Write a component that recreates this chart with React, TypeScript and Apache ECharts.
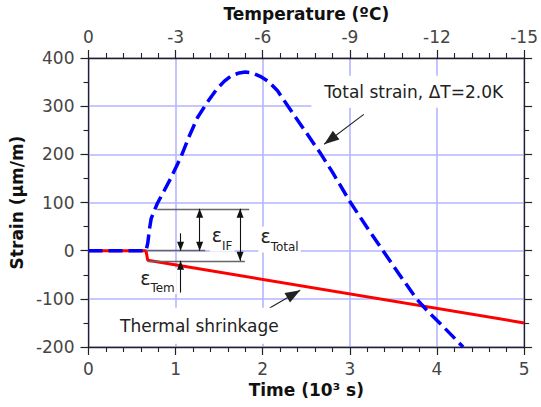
import React, { useEffect, useRef } from "react";
import * as echarts from "echarts";

// ---- data ----
const timeTicks = [0, 1, 2, 3, 4, 5];
const tempTicks = [-15, -12, -9, -6, -3, 0];
const strainTicks = [-200, -100, 0, 100, 200, 300, 400];

const timeTotal = [0, 0.66, 0.68, 0.7, 0.72, 0.76, 0.79, 0.87, 0.94, 1.06, 1.15, 1.25, 1.36, 1.47, 1.56, 1.64, 1.73, 1.8, 1.88, 1.97, 2.06, 2.17, 2.29, 2.45, 2.67, 2.8, 3.0, 3.19, 3.38, 3.57, 3.765, 3.9, 4.03, 4.3];
const strainTotal = [0, 0, 15, 45, 67, 85, 98, 125, 149, 194, 235, 276, 307, 335, 352, 363, 369, 371, 369, 362, 352, 332, 300, 258, 200, 163, 102, 50, 0, -50, -100, -127, -150, -200];

const timeThermal = [0, 0.66, 0.68, 5];
const strainThermal = [0, 0, -20, -150];

// annotation anchors (data coordinates)
const eIFTop = 87;
const eBottom = -21;

const FONT = "DejaVu Sans";
const AX = "#222";
const GRID = "#b5b5ff";
const TICKC = "#454545";

function zip(a: number[], b: number[]) {
  return a.map((v, i) => [v, b[i]]);
}

function end(x: number, y: number, sym: string, w: number, h: number) {
  return {
    coord: [x, y],
    symbol: sym,
    symbolSize: [w, h],
    symbolOffset: [0, h / 2],
  };
}

function seg(x1: number, y1: number, x2: number, y2: number, s1: string, s2: string, w: number, h: number) {
  return [end(x1, y1, s1, w, h), end(x2, y2, s2, w, h)];
}

const epsRich = {
  e: { fontSize: 19, lineHeight: 20, verticalAlign: "top", color: "#222", fontFamily: FONT },
  s: { fontSize: 12, lineHeight: 26, verticalAlign: "bottom", color: "#222", fontFamily: FONT },
};

function epsLabel(x: number, y: number, sub: string) {
  return {
    coord: [x, y],
    label: {
      show: true,
      position: "inside",
      formatter: "{e|ε}{s|" + sub + "}",
      backgroundColor: "#fff",
      padding: [0, 2, 0, 2],
      rich: epsRich,
    },
  };
}

export default function App() {
  const ref = useRef<HTMLDivElement>(null);
  useEffect(() => {
    if (!ref.current) return;
    const chart = echarts.init(ref.current, null, { renderer: "svg" });
    const axisLine = { show: true, onZero: false, lineStyle: { color: AX, width: 1.3 } };
    const axisTick = { show: true, inside: false, length: 8, lineStyle: { color: AX, width: 1.2 } };
    const labelStyle = { fontSize: 17, color: TICKC, fontFamily: FONT };
    const nameStyle = { fontSize: 17, fontWeight: "bold", color: "#111", fontFamily: FONT };

    chart.setOption({
      animation: false,
      textStyle: { fontFamily: FONT },
      grid: { left: 87, right: 14, top: 55, bottom: 60, containLabel: false },
      xAxis: [
        {
          type: "value",
          position: "bottom",
          min: timeTicks[0],
          max: timeTicks[timeTicks.length - 1],
          interval: 1,
          axisLine,
          axisTick,
          minorTick: { show: true, splitNumber: 5, length: 5, lineStyle: { color: AX, width: 1.1 } },
          splitLine: { show: true, lineStyle: { color: GRID, width: 1.6 } },
          axisLabel: { ...labelStyle, margin: 13 },
          name: "Time (10³ s)",
          nameLocation: "middle",
          nameGap: 34,
          nameTextStyle: nameStyle,
        },
        {
          type: "value",
          position: "top",
          min: tempTicks[0],
          max: tempTicks[tempTicks.length - 1],
          interval: 3,
          inverse: true,
          axisLine,
          axisTick,
          minorTick: { show: true, splitNumber: 5, length: 5, lineStyle: { color: AX, width: 1.1 } },
          splitLine: { show: false },
          axisLabel: { ...labelStyle, margin: 13 },
          name: "Temperature (ºC)",
          nameLocation: "middle",
          nameGap: 36,
          nameTextStyle: nameStyle,
        },
      ],
      yAxis: [
        {
          type: "value",
          position: "left",
          min: strainTicks[0],
          max: strainTicks[strainTicks.length - 1],
          interval: 100,
          axisLine,
          axisTick,
          minorTick: { show: true, splitNumber: 2, length: 5, lineStyle: { color: AX, width: 1.1 } },
          splitLine: { show: true, lineStyle: { color: GRID, width: 1.6 } },
          axisLabel: { ...labelStyle, margin: 14 },
          name: "Strain (µm/m)",
          nameLocation: "middle",
          nameGap: 58,
          nameRotate: 90,
          nameTextStyle: nameStyle,
        },
        {
          type: "value",
          position: "right",
          min: strainTicks[0],
          max: strainTicks[strainTicks.length - 1],
          interval: 100,
          axisLine,
          axisTick,
          minorTick: { show: true, splitNumber: 2, length: 5, lineStyle: { color: AX, width: 1.1 } },
          splitLine: { show: false },
          axisLabel: { show: false },
        },
      ],
      series: [
        {
          name: "Thermal shrinkage",
          type: "line",
          data: zip(timeThermal, strainThermal),
          showSymbol: false,
          lineStyle: { color: "#ff0000", width: 3 },
          itemStyle: { color: "#ff0000" },
          z: 3,
          silent: true,
        },
        {
          name: "Total strain",
          type: "line",
          data: zip(timeTotal, strainTotal),
          showSymbol: false,
          lineStyle: { color: "#0000ff", width: 3.5, type: [14, 6] },
          itemStyle: { color: "#0000ff" },
          z: 4,
          silent: true,
        },
        {
          name: "guides",
          type: "line",
          data: [],
          z: 5,
          silent: true,
          markLine: {
            silent: true,
            symbol: "none",
            label: { show: false },
            emphasis: { disabled: true },
            lineStyle: { color: "#666", width: 1.3, type: "solid" },
            data: [
              seg(0.79, eIFTop, 1.845, eIFTop, "none", "none", 1, 1),
              seg(0.66, 0, 1.34, 0, "none", "none", 1, 1),
              seg(0.68, eBottom, 1.795, eBottom, "none", "none", 1, 1),
            ],
          },
        },
        {
          name: "small arrows",
          type: "line",
          data: [],
          z: 6,
          silent: true,
          markLine: {
            silent: true,
            label: { show: false },
            emphasis: { disabled: true },
            lineStyle: { color: "#111", width: 1.1, type: "solid" },
            data: [
              seg(1.276, 0, 1.276, eIFTop, "triangle", "triangle", 7, 9),
              seg(1.74, eIFTop, 1.74, eBottom, "triangle", "triangle", 7, 9),
              seg(1.057, 36, 1.057, 0, "none", "triangle", 7, 9),
              seg(1.057, -87, 1.057, eBottom, "none", "triangle", 7, 9),
            ],
          },
        },
        {
          name: "big arrows",
          type: "line",
          data: [],
          z: 6,
          silent: true,
          markLine: {
            silent: true,
            label: { show: false },
            emphasis: { disabled: true },
            lineStyle: { color: "#222", width: 1.1, type: "solid" },
            data: [
              seg(3.16, 283, 2.705, 221, "none", "triangle", 11, 15),
              seg(2.08, -119, 2.43, -82, "none", "triangle", 11, 15),
            ],
          },
        },
        {
          name: "labels",
          type: "line",
          data: [],
          z: 2,
          silent: true,
          markPoint: {
            silent: true,
            symbol: "rect",
            symbolSize: 1,
            itemStyle: { color: "rgba(0,0,0,0)" },
            data: [
              {
                coord: [3.773, 329.8],
                label: {
                  show: true,
                  position: "inside",
                  formatter: "Total strain, ΔT=2.0K",
                  fontSize: 17,
                  lineHeight: 20,
                  color: "#222",
                  fontFamily: FONT,
                  backgroundColor: "#fff",
                  padding: [10, 20, 2, 13],
                },
              },
              {
                coord: [1.273, -155.8],
                label: {
                  show: true,
                  position: "inside",
                  formatter: "Thermal shrinkage",
                  fontSize: 17,
                  lineHeight: 20,
                  color: "#222",
                  fontFamily: FONT,
                  backgroundColor: "#fff",
                  padding: [8, 12, 8, 12],
                },
              },
              epsLabel(1.534, 25, "IF"),
              epsLabel(2.193, 23, "Total"),
              epsLabel(0.792, -63, "Tem"),
            ],
          },
        },
      ],
    });
    return () => chart.dispose();
  }, []);
  return (
    <div
      ref={ref}
      style={{ position: "fixed", left: 0, top: 0, width: 541, height: 407, background: "#fff" }}
    />
  );
}
